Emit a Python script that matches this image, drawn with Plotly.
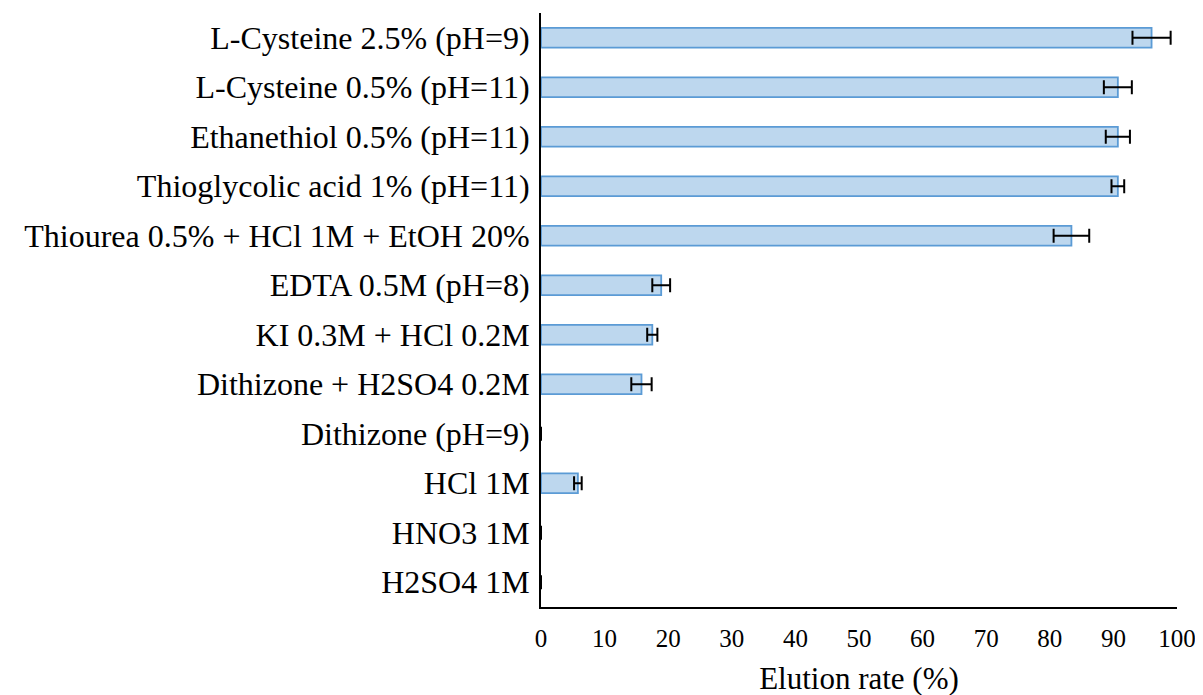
import plotly.graph_objects as go

categories = [
    "L-Cysteine 2.5% (pH=9)",
    "L-Cysteine 0.5% (pH=11)",
    "Ethanethiol 0.5% (pH=11)",
    "Thioglycolic acid 1% (pH=11)",
    "Thiourea 0.5% + HCl 1M + EtOH 20%",
    "EDTA 0.5M (pH=8)",
    "KI 0.3M + HCl 0.2M",
    "Dithizone + H2SO4 0.2M",
    "Dithizone (pH=9)",
    "HCl 1M",
    "HNO3 1M",
    "H2SO4 1M",
]
elution = [96.0, 90.7, 90.7, 90.7, 83.4, 18.9, 17.5, 15.8, 0, 5.8, 0, 0]
errors = [3.0, 2.2, 1.9, 1.0, 2.8, 1.4, 0.8, 1.6, None, 0.6, None, None]
x_ticks = [0, 10, 20, 30, 40, 50, 60, 70, 80, 90, 100]

FONT = "Liberation Serif, Times New Roman, serif"

# no outline on empty (zero) bars
line_widths = [1.8 if v > 0 else 0 for v in elution]

fig = go.Figure(
    go.Bar(
        x=elution,
        y=categories,
        orientation="h",
        marker=dict(color="#BDD7EE", line=dict(color="#5B9BD5", width=line_widths)),
        error_x=dict(type="data", array=errors, visible=True,
                     color="black", thickness=2, width=7),
    )
)

fig.update_layout(
    width=1203,
    height=695,
    paper_bgcolor="white",
    plot_bgcolor="white",
    margin=dict(l=533, r=34, t=5, b=96),
    bargap=0.6,
    showlegend=False,
    font=dict(family=FONT, color="black"),
)
fig.update_xaxes(
    range=[0, 100],
    tickvals=x_ticks,
    showgrid=False,
    zeroline=False,
    showline=True,
    linecolor="black",
    linewidth=2,
    ticks="",
    tickfont=dict(family=FONT, size=25, color="black"),
    ticklabelstandoff=8,
    title=dict(text="Elution rate (%)", font=dict(family=FONT, size=31, color="black"), standoff=16),
)
fig.update_yaxes(
    autorange="reversed",
    showgrid=False,
    zeroline=False,
    showline=True,
    linecolor="black",
    linewidth=2,
    ticks="",
    tickfont=dict(family=FONT, size=32, color="black"),
    ticklabelstandoff=3,
)

fig.write_html("out.html")
